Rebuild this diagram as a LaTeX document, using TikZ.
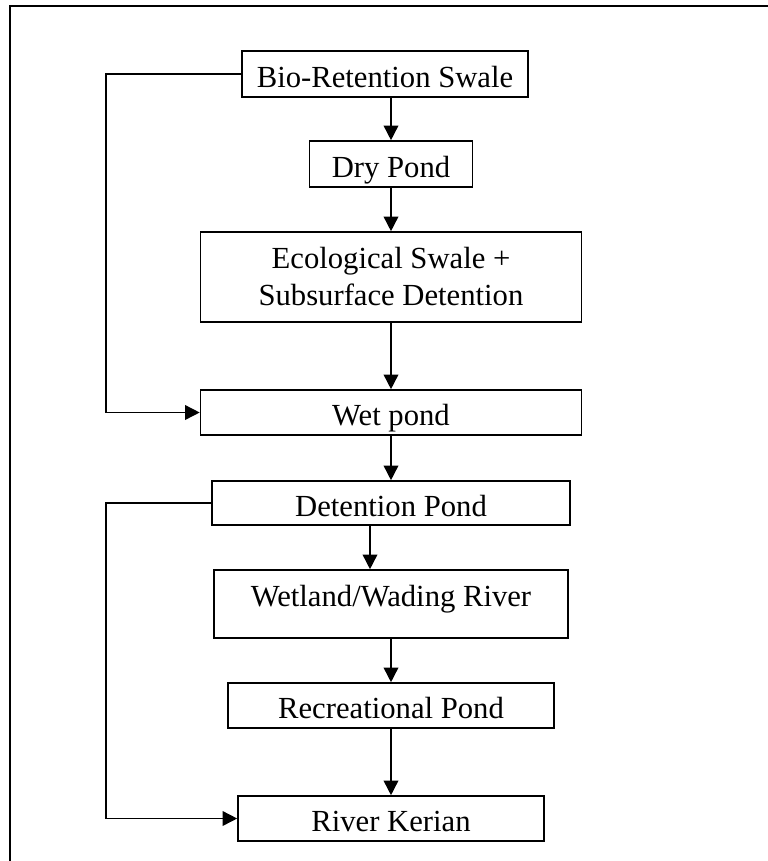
\documentclass[tikz,border=0pt]{standalone}
\usepackage{fontspec}
\setmainfont{Liberation Serif}
\usetikzlibrary{arrows.meta}

\begin{document}
\begin{tikzpicture}[x=0.75pt, y=-0.75pt,
    stage/.style={draw, line width=1.2pt, inner sep=0pt, font=\fontsize{23}{27.75}\selectfont},
    oneline/.style={text height=22pt, text depth=2.5pt},
    boxsize/.style 2 args={minimum width=#1*0.75pt, minimum height=#2*0.75pt},
    flow/.style={line width=1.2pt, -{Triangle[length=11pt,width=11pt]}}]
    \useasboundingbox (0,0) rectangle (768,861);
    % frame, only its top and left edges are on the page
    \draw[line width=1.7pt] (10,861) |- (768,6);

    \node[stage, oneline, boxsize={286}{46}] (bio) at (385,74) {Bio-Retention Swale};
    \node[stage, oneline, boxsize={163}{46}] (dry) at (391,164) {Dry Pond};
    \node[stage, boxsize={381}{90}, align=center] (eco) at (391,277) {Ecological Swale +\\Subsurface Detention};
    \node[stage, oneline, boxsize={381}{45}] (wet) at (391,412.5) {Wet pond};
    \node[stage, oneline, boxsize={358}{44}] (det) at (391,503) {Detention Pond};
    \node[stage, oneline, boxsize={354}{68}, text depth=18pt] (wading) at (391,604) {Wetland/Wading River};
    \node[stage, oneline, boxsize={326}{45}] (rec) at (391,705.5) {Recreational Pond};
    \node[stage, oneline, boxsize={306}{45}] (kerian) at (391,818.5) {River Kerian};

    % main chain
    \draw[flow] (bio.south -| dry.north) -- (dry.north);
    \draw[flow] (dry) -- (eco);
    \draw[flow] (eco) -- (wet);
    \draw[flow] (wet) -- (det);
    \draw[flow] ([xshift=-15.75pt]det.south) -- ([xshift=-15.75pt]det.south |- wading.north);
    \draw[flow] (wading) -- (rec);
    \draw[flow] (rec) -- (kerian);

    % bypass lines on the left
    \coordinate (loop) at (106,0);
    \draw[flow] (bio.west) -- (bio.west -| loop) |- (wet.west);
    \draw[flow] (det.west) -- (det.west -| loop) |- (kerian.west);
\end{tikzpicture}
\end{document}
